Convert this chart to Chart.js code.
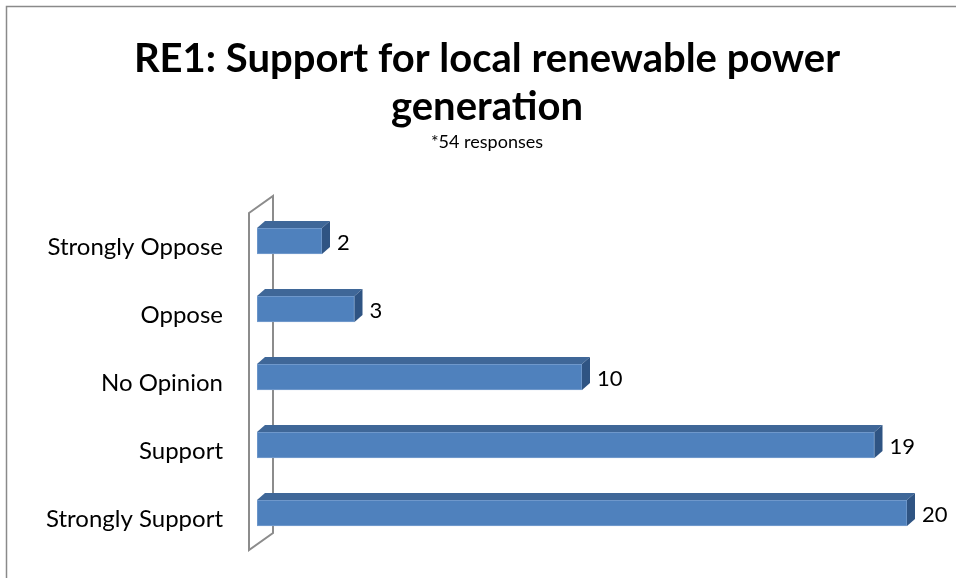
<!DOCTYPE html>
<html>
<head>
<meta charset="utf-8">
<script src="https://cdn.jsdelivr.net/npm/chart.js@4/dist/chart.umd.min.js"></script>
<style>
  html, body { margin: 0; padding: 0; background: #ffffff; overflow: hidden; }
  canvas { display: block; }
</style>
</head>
<body>
<canvas id="c" width="956" height="578"></canvas>
<script>
const categories = ['Strongly Oppose', 'Oppose', 'No Opinion', 'Support', 'Strongly Support'];
const responses = [2, 3, 10, 19, 20];
const titleLines = ['RE1: Support for local renewable power', 'generation'];
const subtitleText = '*54 responses';
const axisMin = 0;
const axisMax = 20;

const FONT = 'Lato, "Open Sans", sans-serif';
const DX = 8, DY = 7;

const frame3d = {
  id: 'frame3d',
  afterLayout(chart) {
    chart.boxes.forEach(b => {
      if (b.options && Object.prototype.hasOwnProperty.call(b.options, 'text')) {
        b.left = 18; b.right = 956; b.width = 938;
      }
    });
  },
  beforeDraw(chart) {
    const ctx = chart.ctx;
    ctx.save();
    ctx.strokeStyle = '#8a8a8a';
    ctx.lineWidth = 1.5;
    ctx.strokeRect(6.5, 6.5, 1000, 1000);
    ctx.restore();
  },
  beforeDatasetsDraw(chart) {
    const ctx = chart.ctx, a = chart.chartArea;
    const fx = a.left - 8, bx = a.left + 16;
    ctx.save();
    ctx.strokeStyle = '#8c8c8c';
    ctx.lineWidth = 2;
    ctx.beginPath();
    ctx.moveTo(fx, a.top + 6);
    ctx.lineTo(bx, a.top - 11);
    ctx.lineTo(bx, a.bottom - 14);
    ctx.lineTo(fx, a.bottom + 3);
    ctx.closePath();
    ctx.stroke();
    ctx.restore();
  },
  afterDatasetsDraw(chart) {
    const ctx = chart.ctx;
    const meta = chart.getDatasetMeta(0);
    ctx.save();
    meta.data.forEach((bar, i) => {
      const x0 = bar.base, x1 = bar.x;
      const yT = bar.y - bar.height / 2, yB = bar.y + bar.height / 2;
      ctx.fillStyle = '#3f6798';
      ctx.beginPath();
      ctx.moveTo(x0, yT);
      ctx.lineTo(x0 + DX, yT - DY);
      ctx.lineTo(x1 + DX, yT - DY);
      ctx.lineTo(x1, yT);
      ctx.closePath();
      ctx.fill();
      ctx.fillStyle = '#2f5483';
      ctx.beginPath();
      ctx.moveTo(x1, yT);
      ctx.lineTo(x1 + DX, yT - DY);
      ctx.lineTo(x1 + DX, yB - DY);
      ctx.lineTo(x1, yB);
      ctx.closePath();
      ctx.fill();
      ctx.fillStyle = '#000000';
      ctx.font = '22px ' + FONT;
      ctx.textAlign = 'left';
      ctx.textBaseline = 'alphabetic';
      ctx.fillText(String(responses[i]), x1 + DX + 7, bar.y + 9);
    });
    ctx.restore();
  }
};

new Chart(document.getElementById('c'), {
  type: 'bar',
  data: {
    labels: categories,
    datasets: [{
      data: responses,
      backgroundColor: '#4f81bd',
      borderColor: '#7aa0d0',
      borderWidth: 1,
      borderSkipped: false,
      barThickness: 26
    }]
  },
  options: {
    indexAxis: 'y',
    responsive: false,
    maintainAspectRatio: false,
    animation: false,
    devicePixelRatio: 1,
    layout: { padding: { left: 20, right: 49, top: 0, bottom: 31 } },
    plugins: {
      legend: { display: false },
      tooltip: { enabled: false },
      title: {
        display: true,
        text: titleLines,
        color: '#000000',
        font: { family: FONT, size: 40, weight: 'bold', lineHeight: 1.2 },
        padding: { top: 35.2, bottom: 0 }
      },
      subtitle: {
        display: true,
        text: subtitleText,
        color: '#000000',
        font: { family: FONT, size: 18, lineHeight: 1.2 },
        padding: { top: 0, bottom: 54.2 }
      }
    },
    scales: {
      x: { display: false, min: axisMin, max: axisMax },
      y: {
        grid: { display: false, drawTicks: false },
        border: { display: false },
        ticks: { color: '#000000', font: { family: FONT, size: 24 }, padding: 34, labelOffset: 6 },
        afterFit(scale) {
          scale.width = 237;
          scale.paddingTop = 0;
          scale.paddingBottom = 0;
        }
      }
    }
  },
  plugins: [frame3d]
});
</script>
</body>
</html>
